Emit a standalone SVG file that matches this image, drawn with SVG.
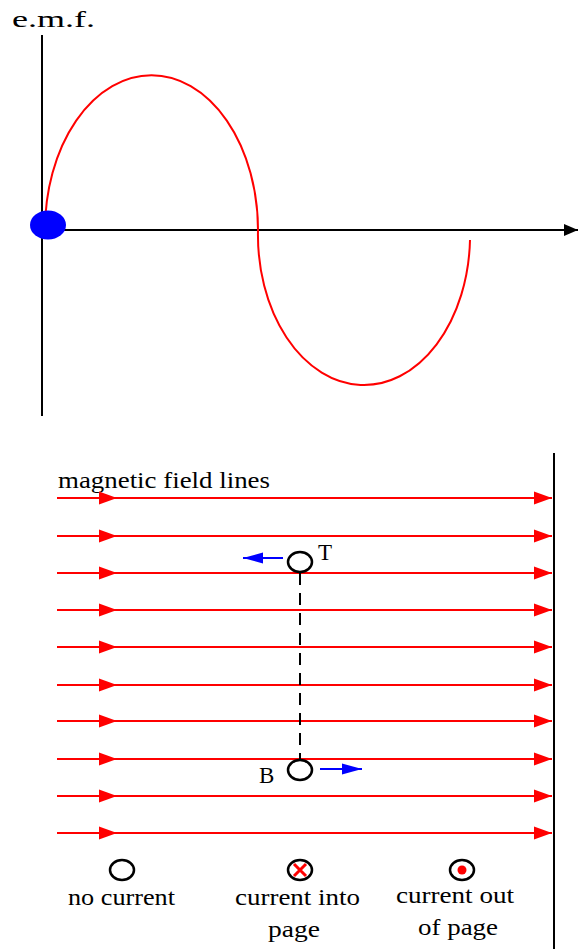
<svg xmlns="http://www.w3.org/2000/svg" width="580" height="949" viewBox="0 0 580 949">
<style>
.txt{font-family:"Liberation Serif","DejaVu Serif",serif;fill:#000}
.field{stroke:#ff0000;stroke-width:2;fill:none}
.axis{stroke:#000;stroke-width:2;fill:none}
.ring{stroke:#000;stroke-width:2.5;fill:#fff}
</style>
<defs>
<marker id="redhead" markerWidth="20" markerHeight="14" refX="18" refY="7" orient="auto" markerUnits="userSpaceOnUse">
<path d="M0,0.5 L18,7 L0,13.5 Z" fill="#ff0000"/>
</marker>
<marker id="bluehead" markerWidth="22" markerHeight="12" refX="20" refY="6" orient="auto" markerUnits="userSpaceOnUse">
<path d="M0,0.5 L20,6 L0,11.5 Z" fill="#0000ff"/>
</marker>
<marker id="blackhead" markerWidth="16" markerHeight="14" refX="14" refY="7" orient="auto" markerUnits="userSpaceOnUse">
<path d="M0,1 L14,7 L0,13 Z" fill="#000"/>
</marker>
</defs>

<g id="graph">
<text class="txt" x="12" y="27" font-size="24" textLength="83" lengthAdjust="spacingAndGlyphs">e.m.f.</text>
<line class="axis" x1="42" y1="35" x2="42" y2="416"/>
<line class="axis" x1="42" y1="230" x2="578" y2="230" marker-end="url(#blackhead)"/>
<path d="M45,230 A106,154 0 0 1 258,230 A106,150 0 0 0 470,240" stroke="#ff0000" stroke-width="2" fill="none"/>
<ellipse cx="48" cy="225" rx="18" ry="14.5" fill="#0000ff"/>
</g>

<g id="field-lines">
<text class="txt" x="58" y="488" font-size="24" textLength="212" lengthAdjust="spacingAndGlyphs">magnetic field lines</text>
<line class="axis" x1="554" y1="453" x2="554" y2="949"/>
<g class="field">
<path d="M57,498 L117,498 L552,498" marker-mid="url(#redhead)" marker-end="url(#redhead)"/>
<path d="M57,536 L117,536 L552,536" marker-mid="url(#redhead)" marker-end="url(#redhead)"/>
<path d="M57,573 L117,573 L552,573" marker-mid="url(#redhead)" marker-end="url(#redhead)"/>
<path d="M57,610 L117,610 L552,610" marker-mid="url(#redhead)" marker-end="url(#redhead)"/>
<path d="M57,647 L117,647 L552,647" marker-mid="url(#redhead)" marker-end="url(#redhead)"/>
<path d="M57,685 L117,685 L552,685" marker-mid="url(#redhead)" marker-end="url(#redhead)"/>
<path d="M57,721 L117,721 L552,721" marker-mid="url(#redhead)" marker-end="url(#redhead)"/>
<path d="M57,759 L117,759 L552,759" marker-mid="url(#redhead)" marker-end="url(#redhead)"/>
<path d="M57,796 L117,796 L552,796" marker-mid="url(#redhead)" marker-end="url(#redhead)"/>
<path d="M57,833 L117,833 L552,833" marker-mid="url(#redhead)" marker-end="url(#redhead)"/>
</g>
</g>

<g id="connectors">
<line x1="300" y1="573" x2="300" y2="760" stroke="#000" stroke-width="2" stroke-dasharray="12,8"/>
<line x1="283" y1="558" x2="243" y2="558" stroke="#0000ff" stroke-width="2" marker-end="url(#bluehead)"/>
<line x1="320" y1="769" x2="362" y2="769" stroke="#0000ff" stroke-width="2" marker-end="url(#bluehead)"/>
</g>

<g id="conductor-T">
<ellipse class="ring" cx="300" cy="562" rx="12" ry="10"/>
<text class="txt" x="318" y="560" font-size="23">T</text>
</g>

<g id="conductor-B">
<ellipse class="ring" cx="300" cy="770" rx="12" ry="10"/>
<text class="txt" x="259" y="783" font-size="23">B</text>
</g>

<g id="legend-no-current">
<ellipse class="ring" cx="122" cy="870" rx="12" ry="10"/>
<text class="txt" x="68" y="905" font-size="24" textLength="107" lengthAdjust="spacingAndGlyphs">no current</text>
</g>

<g id="legend-into">
<ellipse class="ring" cx="300" cy="870" rx="12" ry="10"/>
<path d="M294,864 L306,876 M306,864 L294,876" stroke="#ff0000" stroke-width="3"/>
<text class="txt" x="235" y="905" font-size="24" textLength="125" lengthAdjust="spacingAndGlyphs">current into</text>
<text class="txt" x="268" y="937" font-size="24" textLength="52" lengthAdjust="spacingAndGlyphs">page</text>
</g>

<g id="legend-out">
<ellipse class="ring" cx="462" cy="870" rx="12" ry="10"/>
<circle cx="462" cy="870" r="4.5" fill="#ff0000"/>
<text class="txt" x="396" y="903" font-size="24" textLength="118" lengthAdjust="spacingAndGlyphs">current out</text>
<text class="txt" x="418" y="935" font-size="24" textLength="80" lengthAdjust="spacingAndGlyphs">of page</text>
</g>
</svg>
